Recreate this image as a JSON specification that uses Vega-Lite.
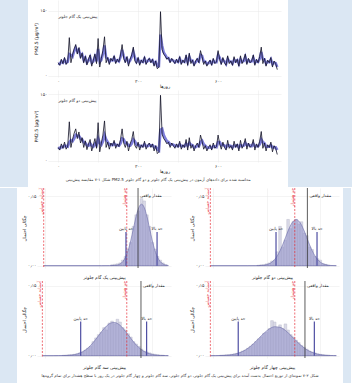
{
"$schema":"https://vega.github.io/schema/vega-lite/v6.json",
"background":"white","padding":0,"spacing":0,
"config":{"font":"DejaVu Sans","view":{"stroke":null},
"axis":{"domain":false,"ticks":false,"labelOverlap":false,"labelFontSize":4.5,"titleFontSize":4.5,"labelColor":"#3a3a3a","titleColor":"#1a1a1a","titleFontWeight":"normal","gridColor":"#e6e6e6","gridWidth":0.45,"labelPadding":1,"titlePadding":1.2},
"title":{"fontWeight":"normal","color":"#333333"}},
"datasets":{
"ts":[{"t":0,"a":30,"p1":28,"p2":30},{"t":6,"a":24,"p1":27,"p2":28},{"t":12,"a":38,"p1":33,"p2":31},{"t":18,"a":28,"p1":30,"p2":31},{"t":24,"a":42,"p1":37,"p2":34},{"t":30,"a":26,"p1":30,"p2":33},{"t":36,"a":33,"p1":32,"p2":32},{"t":42,"a":88,"p1":50,"p2":42},{"t":48,"a":30,"p1":48,"p2":46},{"t":54,"a":48,"p1":44,"p2":44},
{"t":60,"a":62,"p1":56,"p2":50},{"t":66,"a":72,"p1":65,"p2":58},{"t":72,"a":50,"p1":56,"p2":56},{"t":78,"a":65,"p1":60,"p2":56},{"t":84,"a":40,"p1":46,"p2":50},{"t":90,"a":52,"p1":50,"p2":48},{"t":96,"a":30,"p1":36,"p2":42},{"t":102,"a":45,"p1":42,"p2":40},{"t":108,"a":25,"p1":30,"p2":35},{"t":114,"a":38,"p1":35,"p2":34},
{"t":120,"a":48,"p1":43,"p2":39},{"t":126,"a":22,"p1":30,"p2":34},{"t":132,"a":35,"p1":33,"p2":32},{"t":138,"a":50,"p1":44,"p2":38},{"t":144,"a":28,"p1":33,"p2":35},{"t":150,"a":86,"p1":62,"p2":50},{"t":156,"a":20,"p1":32,"p2":40},{"t":162,"a":40,"p1":36,"p2":36},{"t":168,"a":58,"p1":50,"p2":44},{"t":174,"a":90,"p1":70,"p2":58},
{"t":180,"a":30,"p1":42,"p2":48},{"t":186,"a":42,"p1":40,"p2":42},{"t":192,"a":26,"p1":32,"p2":36},{"t":198,"a":40,"p1":37,"p2":36},{"t":204,"a":34,"p1":35,"p2":35},{"t":210,"a":46,"p1":42,"p2":39},{"t":216,"a":28,"p1":33,"p2":35},{"t":222,"a":38,"p1":36,"p2":35},{"t":228,"a":32,"p1":33,"p2":34},{"t":234,"a":48,"p1":43,"p2":39},
{"t":240,"a":72,"p1":60,"p2":50},{"t":246,"a":40,"p1":46,"p2":48},{"t":252,"a":30,"p1":35,"p2":40},{"t":258,"a":44,"p1":40,"p2":39},{"t":264,"a":22,"p1":30,"p2":34},{"t":270,"a":38,"p1":35,"p2":34},{"t":276,"a":48,"p1":43,"p2":39},{"t":282,"a":66,"p1":56,"p2":48},{"t":288,"a":34,"p1":42,"p2":44},{"t":294,"a":28,"p1":32,"p2":36},
{"t":300,"a":42,"p1":38,"p2":36},{"t":306,"a":24,"p1":30,"p2":33},{"t":312,"a":36,"p1":34,"p2":33},{"t":318,"a":30,"p1":32,"p2":33},{"t":324,"a":44,"p1":40,"p2":37},{"t":330,"a":26,"p1":31,"p2":33},{"t":336,"a":35,"p1":34,"p2":33},{"t":342,"a":40,"p1":38,"p2":36},{"t":348,"a":30,"p1":33,"p2":34},{"t":354,"a":38,"p1":36,"p2":35},
{"t":360,"a":22,"p1":28,"p2":31},{"t":366,"a":34,"p1":32,"p2":31},{"t":372,"a":16,"p1":22,"p2":26},{"t":378,"a":20,"p1":22,"p2":23},{"t":384,"a":148,"p1":95,"p2":70},{"t":390,"a":60,"p1":70,"p2":72},{"t":396,"a":50,"p1":54,"p2":58},{"t":402,"a":45,"p1":48,"p2":50},{"t":408,"a":38,"p1":41,"p2":44},{"t":414,"a":42,"p1":41,"p2":42},
{"t":420,"a":30,"p1":34,"p2":37},{"t":426,"a":40,"p1":37,"p2":37},{"t":432,"a":34,"p1":35,"p2":36},{"t":438,"a":28,"p1":31,"p2":33},{"t":444,"a":38,"p1":35,"p2":34},{"t":450,"a":30,"p1":32,"p2":33},{"t":456,"a":44,"p1":40,"p2":37},{"t":462,"a":26,"p1":31,"p2":33},{"t":468,"a":36,"p1":34,"p2":33},{"t":474,"a":30,"p1":32,"p2":33},
{"t":480,"a":48,"p1":42,"p2":38},{"t":486,"a":24,"p1":31,"p2":34},{"t":492,"a":52,"p1":44,"p2":40},{"t":498,"a":28,"p1":34,"p2":36},{"t":504,"a":36,"p1":35,"p2":35},{"t":510,"a":22,"p1":27,"p2":30},{"t":516,"a":34,"p1":31,"p2":31},{"t":522,"a":40,"p1":37,"p2":34},{"t":528,"a":30,"p1":33,"p2":33},{"t":534,"a":58,"p1":48,"p2":42},
{"t":540,"a":44,"p1":46,"p2":45},{"t":546,"a":26,"p1":33,"p2":37},{"t":552,"a":34,"p1":33,"p2":34},{"t":558,"a":22,"p1":27,"p2":30},{"t":564,"a":30,"p1":29,"p2":29},{"t":570,"a":36,"p1":33,"p2":31},{"t":576,"a":24,"p1":28,"p2":29},{"t":582,"a":40,"p1":35,"p2":33},{"t":588,"a":28,"p1":31,"p2":32},{"t":594,"a":32,"p1":31,"p2":31},
{"t":600,"a":58,"p1":48,"p2":42},{"t":606,"a":38,"p1":42,"p2":42},{"t":612,"a":26,"p1":31,"p2":35},{"t":618,"a":42,"p1":37,"p2":36},{"t":624,"a":30,"p1":33,"p2":34},{"t":630,"a":24,"p1":27,"p2":30},{"t":636,"a":46,"p1":39,"p2":35},{"t":642,"a":28,"p1":33,"p2":34},{"t":648,"a":34,"p1":33,"p2":33},{"t":654,"a":24,"p1":28,"p2":30},
{"t":660,"a":44,"p1":37,"p2":34},{"t":666,"a":30,"p1":33,"p2":33},{"t":672,"a":38,"p1":36,"p2":35},{"t":678,"a":22,"p1":27,"p2":30},{"t":684,"a":46,"p1":38,"p2":35},{"t":690,"a":28,"p1":32,"p2":33},{"t":696,"a":36,"p1":34,"p2":34},{"t":702,"a":50,"p1":44,"p2":40},{"t":708,"a":26,"p1":32,"p2":35},{"t":714,"a":40,"p1":36,"p2":36},
{"t":720,"a":30,"p1":32,"p2":34},{"t":726,"a":34,"p1":33,"p2":33},{"t":732,"a":48,"p1":42,"p2":38},{"t":738,"a":24,"p1":30,"p2":33},{"t":744,"a":38,"p1":34,"p2":33},{"t":750,"a":30,"p1":32,"p2":33},{"t":756,"a":44,"p1":39,"p2":37},{"t":762,"a":66,"p1":55,"p2":48},{"t":768,"a":28,"p1":38,"p2":42},{"t":774,"a":40,"p1":38,"p2":39},
{"t":780,"a":22,"p1":28,"p2":32},{"t":786,"a":36,"p1":32,"p2":32},{"t":792,"a":30,"p1":31,"p2":32},{"t":798,"a":42,"p1":38,"p2":35},{"t":804,"a":20,"p1":27,"p2":30},{"t":810,"a":34,"p1":30,"p2":30},{"t":816,"a":28,"p1":29,"p2":30},{"t":822,"a":14,"p1":20,"p2":24}],
"tsl":[{"c":"A","label":"پیش\u200cبینی یک گام جلوتر"},{"c":"B","label":"پیش\u200cبینی دو گام جلوتر"}],
"hist":[
{"p":1,"x0":29.5,"x1":30.5,"d":0.002},{"p":1,"x0":30.5,"x1":31.5,"d":0.003},{"p":1,"x0":31.5,"x1":32.5,"d":0.004},{"p":1,"x0":32.5,"x1":33.5,"d":0.006},{"p":1,"x0":33.5,"x1":34.5,"d":0.012},{"p":1,"x0":34.5,"x1":35.5,"d":0.02},{"p":1,"x0":35.5,"x1":36.5,"d":0.036},{"p":1,"x0":36.5,"x1":37.5,"d":0.05},{"p":1,"x0":37.5,"x1":38.5,"d":0.085},{"p":1,"x0":38.5,"x1":39.5,"d":0.11},{"p":1,"x0":39.5,"x1":40.5,"d":0.118},{"p":1,"x0":40.5,"x1":41.5,"d":0.145},{"p":1,"x0":41.5,"x1":42.5,"d":0.14},{"p":1,"x0":42.5,"x1":43.5,"d":0.11},{"p":1,"x0":43.5,"x1":44.5,"d":0.085},{"p":1,"x0":44.5,"x1":45.5,"d":0.05},{"p":1,"x0":45.5,"x1":46.5,"d":0.036},{"p":1,"x0":46.5,"x1":47.5,"d":0.02},{"p":1,"x0":47.5,"x1":48.5,"d":0.012},{"p":1,"x0":48.5,"x1":49.5,"d":0.006},{"p":1,"x0":49.5,"x1":50.5,"d":0.002},
{"p":2,"x0":21.5,"x1":22.5,"d":0.001},{"p":2,"x0":22.5,"x1":23.5,"d":0.002},{"p":2,"x0":23.5,"x1":24.5,"d":0.002},{"p":2,"x0":24.5,"x1":25.5,"d":0.004},{"p":2,"x0":25.5,"x1":26.5,"d":0.006},{"p":2,"x0":26.5,"x1":27.5,"d":0.01},{"p":2,"x0":27.5,"x1":28.5,"d":0.012},{"p":2,"x0":28.5,"x1":29.5,"d":0.03},{"p":2,"x0":29.5,"x1":30.5,"d":0.085},{"p":2,"x0":30.5,"x1":31.5,"d":0.04},{"p":2,"x0":31.5,"x1":32.5,"d":0.055},{"p":2,"x0":32.5,"x1":33.5,"d":0.1},{"p":2,"x0":33.5,"x1":34.5,"d":0.08},{"p":2,"x0":34.5,"x1":35.5,"d":0.095},{"p":2,"x0":35.5,"x1":36.5,"d":0.1},{"p":2,"x0":36.5,"x1":37.5,"d":0.09},{"p":2,"x0":37.5,"x1":38.5,"d":0.095},{"p":2,"x0":38.5,"x1":39.5,"d":0.07},{"p":2,"x0":39.5,"x1":40.5,"d":0.065},{"p":2,"x0":40.5,"x1":41.5,"d":0.04},{"p":2,"x0":41.5,"x1":42.5,"d":0.035},{"p":2,"x0":42.5,"x1":43.5,"d":0.02},{"p":2,"x0":43.5,"x1":44.5,"d":0.015},{"p":2,"x0":44.5,"x1":45.5,"d":0.012},{"p":2,"x0":45.5,"x1":46.5,"d":0.004},{"p":2,"x0":46.5,"x1":47.5,"d":0.003},{"p":2,"x0":47.5,"x1":48.5,"d":0.001},
{"p":3,"x0":11.5,"x1":12.5,"d":0.001},{"p":3,"x0":12.5,"x1":13.5,"d":0.001},{"p":3,"x0":13.5,"x1":14.5,"d":0.002},{"p":3,"x0":14.5,"x1":15.5,"d":0.002},{"p":3,"x0":15.5,"x1":16.5,"d":0.003},{"p":3,"x0":16.5,"x1":17.5,"d":0.004},{"p":3,"x0":17.5,"x1":18.5,"d":0.006},{"p":3,"x0":18.5,"x1":19.5,"d":0.008},{"p":3,"x0":19.5,"x1":20.5,"d":0.012},{"p":3,"x0":20.5,"x1":21.5,"d":0.016},{"p":3,"x0":21.5,"x1":22.5,"d":0.02},{"p":3,"x0":22.5,"x1":23.5,"d":0.03},{"p":3,"x0":23.5,"x1":24.5,"d":0.038},{"p":3,"x0":24.5,"x1":25.5,"d":0.045},{"p":3,"x0":25.5,"x1":26.5,"d":0.05},{"p":3,"x0":26.5,"x1":27.5,"d":0.06},{"p":3,"x0":27.5,"x1":28.5,"d":0.055},{"p":3,"x0":28.5,"x1":29.5,"d":0.07},{"p":3,"x0":29.5,"x1":30.5,"d":0.074},{"p":3,"x0":30.5,"x1":31.5,"d":0.068},{"p":3,"x0":31.5,"x1":32.5,"d":0.078},{"p":3,"x0":32.5,"x1":33.5,"d":0.072},{"p":3,"x0":33.5,"x1":34.5,"d":0.06},{"p":3,"x0":34.5,"x1":35.5,"d":0.055},{"p":3,"x0":35.5,"x1":36.5,"d":0.047},{"p":3,"x0":36.5,"x1":37.5,"d":0.04},{"p":3,"x0":37.5,"x1":38.5,"d":0.03},{"p":3,"x0":38.5,"x1":39.5,"d":0.025},{"p":3,"x0":39.5,"x1":40.5,"d":0.02},{"p":3,"x0":40.5,"x1":41.5,"d":0.014},{"p":3,"x0":41.5,"x1":42.5,"d":0.01},{"p":3,"x0":42.5,"x1":43.5,"d":0.008},{"p":3,"x0":43.5,"x1":44.5,"d":0.006},{"p":3,"x0":44.5,"x1":45.5,"d":0.004},{"p":3,"x0":45.5,"x1":46.5,"d":0.003},{"p":3,"x0":46.5,"x1":47.5,"d":0.002},{"p":3,"x0":47.5,"x1":48.5,"d":0.001},{"p":3,"x0":48.5,"x1":49.5,"d":0.001},
{"p":4,"x0":7.5,"x1":8.5,"d":0.001},{"p":4,"x0":8.5,"x1":9.5,"d":0.001},{"p":4,"x0":9.5,"x1":10.5,"d":0.002},{"p":4,"x0":10.5,"x1":11.5,"d":0.002},{"p":4,"x0":11.5,"x1":12.5,"d":0.003},{"p":4,"x0":12.5,"x1":13.5,"d":0.004},{"p":4,"x0":13.5,"x1":14.5,"d":0.005},{"p":4,"x0":14.5,"x1":15.5,"d":0.007},{"p":4,"x0":15.5,"x1":16.5,"d":0.01},{"p":4,"x0":16.5,"x1":17.5,"d":0.012},{"p":4,"x0":17.5,"x1":18.5,"d":0.016},{"p":4,"x0":18.5,"x1":19.5,"d":0.02},{"p":4,"x0":19.5,"x1":20.5,"d":0.025},{"p":4,"x0":20.5,"x1":21.5,"d":0.03},{"p":4,"x0":21.5,"x1":22.5,"d":0.036},{"p":4,"x0":22.5,"x1":23.5,"d":0.04},{"p":4,"x0":23.5,"x1":24.5,"d":0.048},{"p":4,"x0":24.5,"x1":25.5,"d":0.05},{"p":4,"x0":25.5,"x1":26.5,"d":0.058},{"p":4,"x0":26.5,"x1":27.5,"d":0.075},{"p":4,"x0":27.5,"x1":28.5,"d":0.072},{"p":4,"x0":28.5,"x1":29.5,"d":0.06},{"p":4,"x0":29.5,"x1":30.5,"d":0.066},{"p":4,"x0":30.5,"x1":31.5,"d":0.058},{"p":4,"x0":31.5,"x1":32.5,"d":0.068},{"p":4,"x0":32.5,"x1":33.5,"d":0.055},{"p":4,"x0":33.5,"x1":34.5,"d":0.045},{"p":4,"x0":34.5,"x1":35.5,"d":0.04},{"p":4,"x0":35.5,"x1":36.5,"d":0.033},{"p":4,"x0":36.5,"x1":37.5,"d":0.028},{"p":4,"x0":37.5,"x1":38.5,"d":0.022},{"p":4,"x0":38.5,"x1":39.5,"d":0.018},{"p":4,"x0":39.5,"x1":40.5,"d":0.014},{"p":4,"x0":40.5,"x1":41.5,"d":0.01},{"p":4,"x0":41.5,"x1":42.5,"d":0.008},{"p":4,"x0":42.5,"x1":43.5,"d":0.006},{"p":4,"x0":43.5,"x1":44.5,"d":0.004},{"p":4,"x0":44.5,"x1":45.5,"d":0.003},{"p":4,"x0":45.5,"x1":46.5,"d":0.002},{"p":4,"x0":46.5,"x1":47.5,"d":0.001},{"p":4,"x0":47.5,"x1":48.5,"d":0.001}],
"dens":[
{"p":1,"x":4.5,"d":0},{"p":1,"x":26,"d":0},{"p":1,"x":29,"d":0.0001},{"p":1,"x":30,"d":0.0003},{"p":1,"x":31,"d":0.0006},{"p":1,"x":32,"d":0.0015},{"p":1,"x":33,"d":0.0038},{"p":1,"x":34,"d":0.0087},{"p":1,"x":35,"d":0.018},{"p":1,"x":36,"d":0.033},{"p":1,"x":37,"d":0.055},{"p":1,"x":38,"d":0.081},{"p":1,"x":39,"d":0.107},{"p":1,"x":40,"d":0.126},{"p":1,"x":41,"d":0.133},{"p":1,"x":42,"d":0.126},{"p":1,"x":43,"d":0.107},{"p":1,"x":44,"d":0.081},{"p":1,"x":45,"d":0.055},{"p":1,"x":46,"d":0.033},{"p":1,"x":47,"d":0.018},{"p":1,"x":48,"d":0.0087},{"p":1,"x":49,"d":0.0038},{"p":1,"x":50,"d":0.0015},{"p":1,"x":51,"d":0.0005},
{"p":2,"x":4,"d":0},{"p":2,"x":18,"d":0},{"p":2,"x":21,"d":0.0001},{"p":2,"x":22,"d":0.0002},{"p":2,"x":23,"d":0.0005},{"p":2,"x":24,"d":0.0011},{"p":2,"x":25,"d":0.0023},{"p":2,"x":26,"d":0.0044},{"p":2,"x":27,"d":0.0079},{"p":2,"x":28,"d":0.0135},{"p":2,"x":29,"d":0.0216},{"p":2,"x":30,"d":0.0324},{"p":2,"x":31,"d":0.0456},{"p":2,"x":32,"d":0.0605},{"p":2,"x":33,"d":0.0753},{"p":2,"x":34,"d":0.088},{"p":2,"x":35,"d":0.0966},{"p":2,"x":36,"d":0.0997},{"p":2,"x":37,"d":0.0966},{"p":2,"x":38,"d":0.088},{"p":2,"x":39,"d":0.0753},{"p":2,"x":40,"d":0.0605},{"p":2,"x":41,"d":0.0456},{"p":2,"x":42,"d":0.0324},{"p":2,"x":43,"d":0.0216},{"p":2,"x":44,"d":0.0135},{"p":2,"x":45,"d":0.0079},{"p":2,"x":46,"d":0.0044},{"p":2,"x":47,"d":0.0023},{"p":2,"x":48,"d":0.0011},{"p":2,"x":49,"d":0.0005},{"p":2,"x":51,"d":0.0001},
{"p":3,"x":4,"d":0},{"p":3,"x":8,"d":0},{"p":3,"x":10,"d":0.0001},{"p":3,"x":12,"d":0.0003},{"p":3,"x":14,"d":0.0009},{"p":3,"x":16,"d":0.0024},{"p":3,"x":18,"d":0.0057},{"p":3,"x":19,"d":0.0083},{"p":3,"x":20,"d":0.0119},{"p":3,"x":21,"d":0.0164},{"p":3,"x":22,"d":0.0219},{"p":3,"x":23,"d":0.0284},{"p":3,"x":24,"d":0.0355},{"p":3,"x":25,"d":0.0432},{"p":3,"x":26,"d":0.0508},{"p":3,"x":27,"d":0.0579},{"p":3,"x":28,"d":0.0639},{"p":3,"x":29,"d":0.0684},{"p":3,"x":30,"d":0.0708},{"p":3,"x":31,"d":0.071},{"p":3,"x":32,"d":0.069},{"p":3,"x":33,"d":0.065},{"p":3,"x":34,"d":0.0592},{"p":3,"x":35,"d":0.0523},{"p":3,"x":36,"d":0.0447},{"p":3,"x":37,"d":0.0371},{"p":3,"x":38,"d":0.0297},{"p":3,"x":39,"d":0.0231},{"p":3,"x":40,"d":0.0174},{"p":3,"x":41,"d":0.0127},{"p":3,"x":42,"d":0.009},{"p":3,"x":43,"d":0.0061},{"p":3,"x":44,"d":0.0041},{"p":3,"x":45,"d":0.0026},{"p":3,"x":46,"d":0.0016},{"p":3,"x":47,"d":0.001},{"p":3,"x":48,"d":0.0006},{"p":3,"x":50,"d":0.0002},{"p":3,"x":51,"d":0.0001},
{"p":4,"x":4,"d":0},{"p":4,"x":6,"d":0.0001},{"p":4,"x":8,"d":0.0004},{"p":4,"x":10,"d":0.0009},{"p":4,"x":12,"d":0.0022},{"p":4,"x":14,"d":0.0046},{"p":4,"x":16,"d":0.009},{"p":4,"x":18,"d":0.0158},{"p":4,"x":20,"d":0.0252},{"p":4,"x":22,"d":0.0366},{"p":4,"x":24,"d":0.0481},{"p":4,"x":26,"d":0.0574},{"p":4,"x":28,"d":0.062},{"p":4,"x":30,"d":0.0608},{"p":4,"x":32,"d":0.0541},{"p":4,"x":34,"d":0.0436},{"p":4,"x":36,"d":0.0319},{"p":4,"x":38,"d":0.0212},{"p":4,"x":40,"d":0.0127},{"p":4,"x":42,"d":0.007},{"p":4,"x":44,"d":0.0034},{"p":4,"x":46,"d":0.0015},{"p":4,"x":48,"d":0.0006},{"p":4,"x":50,"d":0.0002},{"p":4,"x":51,"d":0.0001}],
"mk":[
{"p":1,"k":"red","x":4.5,"label":"آستانه حساس"},{"p":1,"k":"red","x":35.5,"label":"حد هشدار"},{"p":1,"k":"act","x":39.7,"label":"مقدار واقعی"},{"p":1,"k":"lo","x":35.2,"label":"حد پایین"},{"p":1,"k":"hi","x":46.8,"label":"حد بالا"},
{"p":2,"k":"red","x":4,"label":"آستانه حساس"},{"p":2,"k":"red","x":35.5,"label":"حد هشدار"},{"p":2,"k":"act","x":40.2,"label":"مقدار واقعی"},{"p":2,"k":"lo","x":28.5,"label":"حد پایین"},{"p":2,"k":"hi","x":43.8,"label":"حد بالا"},
{"p":3,"k":"red","x":4,"label":"آستانه حساس"},{"p":3,"k":"red","x":35.5,"label":"حد هشدار"},{"p":3,"k":"act","x":40.8,"label":"مقدار واقعی"},{"p":3,"k":"lo","x":18.3,"label":"حد پایین"},{"p":3,"k":"hi","x":42.9,"label":"حد بالا"},
{"p":4,"k":"red","x":4,"label":"آستانه حساس"},{"p":4,"k":"red","x":35.5,"label":"حد هشدار"},{"p":4,"k":"act","x":39.3,"label":"مقدار واقعی"},{"p":4,"k":"lo","x":14.4,"label":"حد پایین"},{"p":4,"k":"hi","x":42.8,"label":"حد بالا"}]
},
"vconcat":[
{"spacing":5,"hconcat":[
 {"width":28,"height":187,"data":{"values":[]},"mark":"point","view":{"fill":"#dbe7f3","stroke":null}},
 {"spacing":1,"title":{"text":"شکل ۱-۷ مقایسه پیش\u200cبینی PM2.5 محاسبه شده برای داده\u200cهای آزمون در پیش\u200cبینی یک گام جلوتر و دو گام جلوتر","orient":"bottom","fontSize":4,"offset":5,"anchor":"middle"},
  "vconcat":[
  {"width":233,"height":77,"layer":[
   {"data":{"name":"ts"},"mark":{"type":"line","color":"#5c5cd0","strokeWidth":2.6,"opacity":0.8},"encoding":{
     "x":{"field":"t","type":"quantitative","scale":{"domain":[-38,836],"nice":false,"zero":false},"axis":{"title":"روزها","values":[0,150,300,450,600,750],"labelExpr":"datum.value==0?'۰':datum.value==300?'۳۰۰':datum.value==600?'۶۰۰':''"}},
     "y":{"field":"p1","type":"quantitative","scale":{"domain":[-3,175],"nice":false,"zero":false},"axis":{"title":"PM2.5 (µg/m³)","values":[0,25,50,75,100,125,150],"labelExpr":"datum.value==0?'۰':datum.value==50?'۵۰':datum.value==100?'۱۰۰':datum.value==150?'۱۵۰':''"}}}},
   {"data":{"name":"ts"},"mark":{"type":"line","color":"#121226","strokeWidth":0.8},"encoding":{"x":{"field":"t","type":"quantitative"},"y":{"field":"a","type":"quantitative"}}},
   {"data":{"name":"tsl"},"transform":[{"filter":"datum.c=='A'"}],"mark":{"type":"text","align":"left","baseline":"middle","fontSize":4.2,"color":"#222222"},"encoding":{"x":{"datum":0},"y":{"datum":136},"text":{"field":"label"}}}
  ]},
  {"width":233,"height":72,"layer":[
   {"data":{"name":"ts"},"mark":{"type":"line","color":"#5c5cd0","strokeWidth":2.8,"opacity":0.8},"encoding":{
     "x":{"field":"t","type":"quantitative","scale":{"domain":[-38,836],"nice":false,"zero":false},"axis":{"title":"روزها","values":[0,150,300,450,600,750],"labelExpr":"datum.value==0?'۰':datum.value==300?'۳۰۰':datum.value==600?'۶۰۰':''"}},
     "y":{"field":"p2","type":"quantitative","scale":{"domain":[-3,160],"nice":false,"zero":false},"axis":{"title":"PM2.5 (µg/m³)","values":[0,25,50,75,100,125,150],"labelExpr":"datum.value==0?'۰':datum.value==50?'۵۰':datum.value==100?'۱۰۰':datum.value==150?'۱۵۰':''"}}}},
   {"data":{"name":"ts"},"mark":{"type":"line","color":"#121226","strokeWidth":0.8},"encoding":{"x":{"field":"t","type":"quantitative"},"y":{"field":"a","type":"quantitative"}}},
   {"data":{"name":"tsl"},"transform":[{"filter":"datum.c=='B'"}],"mark":{"type":"text","align":"left","baseline":"middle","fontSize":4.2,"color":"#222222"},"encoding":{"x":{"datum":0},"y":{"datum":136},"text":{"field":"label"}}}
  ]}
 ]},
 {"width":66,"height":187,"data":{"values":[]},"mark":"point","view":{"fill":"#dbe7f3","stroke":null}}
]},
{"spacing":4,"hconcat":[
 {"width":17,"height":196,"data":{"values":[]},"mark":"point","view":{"fill":"#dbe7f3","stroke":null}},
 {"spacing":0,"title":{"text":"شکل ۲-۷ نمونه\u200cای از توزیع احتمال بدست آمده برای پیش\u200cبینی یک گام جلوتر، دو گام جلوتر، سه گام جلوتر و چهار گام جلوتر در یک روز با سطح هشدار برای تمام گروه\u200cها","orient":"bottom","fontSize":4,"offset":5,"anchor":"middle"},
  "vconcat":[
  {"spacing":18,"hconcat":[
   {"width":134,"height":80,"layer":[
    {"data":{"name":"hist"},"transform":[{"filter":"datum.p==1"}],"mark":{"type":"rect","fill":"#dadae8","stroke":"#b3b3c6","strokeWidth":0.4},"encoding":{"x":{"field":"x0","type":"quantitative","scale":{"domain":[2,52],"nice":false,"zero":false},"axis":{"title":"پیش\u200cبینی یک گام جلوتر","values":[5,10,15,20,25,30,35,40,45,50],"labelExpr":"datum.value==10?'۱۰':datum.value==20?'۲۰':datum.value==30?'۳۰':datum.value==40?'۴۰':datum.value==50?'۵۰':''"}},"x2":{"field":"x1"},"y":{"field":"d","type":"quantitative","scale":{"domain":[-0.005,0.168],"nice":false,"zero":false},"axis":{"title":"چگالی احتمال","values":[0,0.025,0.05,0.075,0.1,0.125,0.15],"labelExpr":"round(datum.value*1000)==0?'۰٫۰۰':round(datum.value*1000)==50?'۰٫۰۵':round(datum.value*1000)==100?'۰٫۱۰':round(datum.value*1000)==150?'۰٫۱۵':''"}},"y2":{"datum":0}}},
    {"data":{"name":"dens"},"transform":[{"filter":"datum.p==1"}],"mark":{"type":"area","interpolate":"monotone","fill":"#8a8ac6","fillOpacity":0.5,"stroke":"#5a5a9e","strokeWidth":0.5},"encoding":{"x":{"field":"x","type":"quantitative"},"y":{"field":"d","type":"quantitative"},"y2":{"datum":0}}},
    {"data":{"name":"mk"},"transform":[{"filter":"datum.p==1 && datum.k=='red'"}],"mark":{"type":"rule","color":"#e8303a","strokeWidth":0.7,"strokeDash":[2,1.5]},"encoding":{"x":{"field":"x","type":"quantitative"}}},
    {"data":{"name":"mk"},"transform":[{"filter":"datum.p==1 && datum.k=='red'"}],"mark":{"type":"text","angle":270,"align":"right","baseline":"bottom","fontSize":4.5,"color":"#e8303a"},"encoding":{"x":{"field":"x","type":"quantitative"},"y":{"datum":0.168},"text":{"field":"label"}}},
    {"data":{"name":"mk"},"transform":[{"filter":"datum.p==1 && datum.k=='act'"}],"mark":{"type":"rule","color":"#333333","strokeWidth":0.8},"encoding":{"x":{"field":"x","type":"quantitative"}}},
    {"data":{"name":"mk"},"transform":[{"filter":"datum.p==1 && datum.k=='act'"}],"mark":{"type":"text","align":"left","dx":2,"baseline":"middle","fontSize":4.2,"color":"#222222"},"encoding":{"x":{"field":"x","type":"quantitative"},"y":{"datum":0.15},"text":{"field":"label"}}},
    {"data":{"name":"mk"},"transform":[{"filter":"datum.p==1 && (datum.k=='lo' || datum.k=='hi')"}],"mark":{"type":"rule","color":"#4e4ea2","strokeWidth":1.2},"encoding":{"x":{"field":"x","type":"quantitative"},"y":{"datum":0},"y2":{"datum":0.073}}},
    {"data":{"name":"mk"},"transform":[{"filter":"datum.p==1 && (datum.k=='lo' || datum.k=='hi')"}],"mark":{"type":"text","align":"center","baseline":"bottom","dy":-1,"fontSize":4.2,"color":"#222222"},"encoding":{"x":{"field":"x","type":"quantitative"},"y":{"datum":0.073},"text":{"field":"label"}}}
   ]},
   {"width":134,"height":80,"layer":[
    {"data":{"name":"hist"},"transform":[{"filter":"datum.p==2"}],"mark":{"type":"rect","fill":"#dadae8","stroke":"#b3b3c6","strokeWidth":0.4},"encoding":{"x":{"field":"x0","type":"quantitative","scale":{"domain":[2,52],"nice":false,"zero":false},"axis":{"title":"پیش\u200cبینی دو گام جلوتر","values":[5,10,15,20,25,30,35,40,45,50],"labelExpr":"datum.value==10?'۱۰':datum.value==20?'۲۰':datum.value==30?'۳۰':datum.value==40?'۴۰':datum.value==50?'۵۰':''"}},"x2":{"field":"x1"},"y":{"field":"d","type":"quantitative","scale":{"domain":[-0.005,0.168],"nice":false,"zero":false},"axis":{"title":"چگالی احتمال","values":[0,0.025,0.05,0.075,0.1,0.125,0.15],"labelExpr":"round(datum.value*1000)==0?'۰٫۰۰':round(datum.value*1000)==50?'۰٫۰۵':round(datum.value*1000)==100?'۰٫۱۰':round(datum.value*1000)==150?'۰٫۱۵':''"}},"y2":{"datum":0}}},
    {"data":{"name":"dens"},"transform":[{"filter":"datum.p==2"}],"mark":{"type":"area","interpolate":"monotone","fill":"#8a8ac6","fillOpacity":0.5,"stroke":"#5a5a9e","strokeWidth":0.5},"encoding":{"x":{"field":"x","type":"quantitative"},"y":{"field":"d","type":"quantitative"},"y2":{"datum":0}}},
    {"data":{"name":"mk"},"transform":[{"filter":"datum.p==2 && datum.k=='red'"}],"mark":{"type":"rule","color":"#e8303a","strokeWidth":0.7,"strokeDash":[2,1.5]},"encoding":{"x":{"field":"x","type":"quantitative"}}},
    {"data":{"name":"mk"},"transform":[{"filter":"datum.p==2 && datum.k=='red'"}],"mark":{"type":"text","angle":270,"align":"right","baseline":"bottom","fontSize":4.5,"color":"#e8303a"},"encoding":{"x":{"field":"x","type":"quantitative"},"y":{"datum":0.168},"text":{"field":"label"}}},
    {"data":{"name":"mk"},"transform":[{"filter":"datum.p==2 && datum.k=='act'"}],"mark":{"type":"rule","color":"#333333","strokeWidth":0.8},"encoding":{"x":{"field":"x","type":"quantitative"}}},
    {"data":{"name":"mk"},"transform":[{"filter":"datum.p==2 && datum.k=='act'"}],"mark":{"type":"text","align":"left","dx":2,"baseline":"middle","fontSize":4.2,"color":"#222222"},"encoding":{"x":{"field":"x","type":"quantitative"},"y":{"datum":0.15},"text":{"field":"label"}}},
    {"data":{"name":"mk"},"transform":[{"filter":"datum.p==2 && (datum.k=='lo' || datum.k=='hi')"}],"mark":{"type":"rule","color":"#4e4ea2","strokeWidth":1.2},"encoding":{"x":{"field":"x","type":"quantitative"},"y":{"datum":0},"y2":{"datum":0.073}}},
    {"data":{"name":"mk"},"transform":[{"filter":"datum.p==2 && (datum.k=='lo' || datum.k=='hi')"}],"mark":{"type":"text","align":"center","baseline":"bottom","dy":-1,"fontSize":4.2,"color":"#222222"},"encoding":{"x":{"field":"x","type":"quantitative"},"y":{"datum":0.073},"text":{"field":"label"}}}
   ]}
  ]},
  {"spacing":18,"hconcat":[
   {"width":134,"height":77,"layer":[
    {"data":{"name":"hist"},"transform":[{"filter":"datum.p==3"}],"mark":{"type":"rect","fill":"#dadae8","stroke":"#b3b3c6","strokeWidth":0.4},"encoding":{"x":{"field":"x0","type":"quantitative","scale":{"domain":[2,52],"nice":false,"zero":false},"axis":{"title":"پیش\u200cبینی سه گام جلوتر","values":[5,10,15,20,25,30,35,40,45,50],"labelExpr":"datum.value==10?'۱۰':datum.value==20?'۲۰':datum.value==30?'۳۰':datum.value==40?'۴۰':datum.value==50?'۵۰':''"}},"x2":{"field":"x1"},"y":{"field":"d","type":"quantitative","scale":{"domain":[-0.005,0.16],"nice":false,"zero":false},"axis":{"title":"چگالی احتمال","values":[0,0.025,0.05,0.075,0.1,0.125,0.15],"labelExpr":"round(datum.value*1000)==0?'۰٫۰۰':round(datum.value*1000)==50?'۰٫۰۵':round(datum.value*1000)==100?'۰٫۱۰':round(datum.value*1000)==150?'۰٫۱۵':''"}},"y2":{"datum":0}}},
    {"data":{"name":"dens"},"transform":[{"filter":"datum.p==3"}],"mark":{"type":"area","interpolate":"monotone","fill":"#8a8ac6","fillOpacity":0.5,"stroke":"#5a5a9e","strokeWidth":0.5},"encoding":{"x":{"field":"x","type":"quantitative"},"y":{"field":"d","type":"quantitative"},"y2":{"datum":0}}},
    {"data":{"name":"mk"},"transform":[{"filter":"datum.p==3 && datum.k=='red'"}],"mark":{"type":"rule","color":"#e8303a","strokeWidth":0.7,"strokeDash":[2,1.5]},"encoding":{"x":{"field":"x","type":"quantitative"}}},
    {"data":{"name":"mk"},"transform":[{"filter":"datum.p==3 && datum.k=='red'"}],"mark":{"type":"text","angle":270,"align":"right","baseline":"bottom","fontSize":4.5,"color":"#e8303a"},"encoding":{"x":{"field":"x","type":"quantitative"},"y":{"datum":0.16},"text":{"field":"label"}}},
    {"data":{"name":"mk"},"transform":[{"filter":"datum.p==3 && datum.k=='act'"}],"mark":{"type":"rule","color":"#333333","strokeWidth":0.8},"encoding":{"x":{"field":"x","type":"quantitative"}}},
    {"data":{"name":"mk"},"transform":[{"filter":"datum.p==3 && datum.k=='act'"}],"mark":{"type":"text","align":"left","dx":2,"baseline":"middle","fontSize":4.2,"color":"#222222"},"encoding":{"x":{"field":"x","type":"quantitative"},"y":{"datum":0.15},"text":{"field":"label"}}},
    {"data":{"name":"mk"},"transform":[{"filter":"datum.p==3 && (datum.k=='lo' || datum.k=='hi')"}],"mark":{"type":"rule","color":"#4e4ea2","strokeWidth":1.2},"encoding":{"x":{"field":"x","type":"quantitative"},"y":{"datum":0},"y2":{"datum":0.073}}},
    {"data":{"name":"mk"},"transform":[{"filter":"datum.p==3 && (datum.k=='lo' || datum.k=='hi')"}],"mark":{"type":"text","align":"center","baseline":"bottom","dy":-1,"fontSize":4.2,"color":"#222222"},"encoding":{"x":{"field":"x","type":"quantitative"},"y":{"datum":0.073},"text":{"field":"label"}}}
   ]},
   {"width":134,"height":77,"layer":[
    {"data":{"name":"hist"},"transform":[{"filter":"datum.p==4"}],"mark":{"type":"rect","fill":"#dadae8","stroke":"#b3b3c6","strokeWidth":0.4},"encoding":{"x":{"field":"x0","type":"quantitative","scale":{"domain":[2,52],"nice":false,"zero":false},"axis":{"title":"پیش\u200cبینی چهار گام جلوتر","values":[5,10,15,20,25,30,35,40,45,50],"labelExpr":"datum.value==10?'۱۰':datum.value==20?'۲۰':datum.value==30?'۳۰':datum.value==40?'۴۰':datum.value==50?'۵۰':''"}},"x2":{"field":"x1"},"y":{"field":"d","type":"quantitative","scale":{"domain":[-0.005,0.16],"nice":false,"zero":false},"axis":{"title":"چگالی احتمال","values":[0,0.025,0.05,0.075,0.1,0.125,0.15],"labelExpr":"round(datum.value*1000)==0?'۰٫۰۰':round(datum.value*1000)==50?'۰٫۰۵':round(datum.value*1000)==100?'۰٫۱۰':round(datum.value*1000)==150?'۰٫۱۵':''"}},"y2":{"datum":0}}},
    {"data":{"name":"dens"},"transform":[{"filter":"datum.p==4"}],"mark":{"type":"area","interpolate":"monotone","fill":"#8a8ac6","fillOpacity":0.5,"stroke":"#5a5a9e","strokeWidth":0.5},"encoding":{"x":{"field":"x","type":"quantitative"},"y":{"field":"d","type":"quantitative"},"y2":{"datum":0}}},
    {"data":{"name":"mk"},"transform":[{"filter":"datum.p==4 && datum.k=='red'"}],"mark":{"type":"rule","color":"#e8303a","strokeWidth":0.7,"strokeDash":[2,1.5]},"encoding":{"x":{"field":"x","type":"quantitative"}}},
    {"data":{"name":"mk"},"transform":[{"filter":"datum.p==4 && datum.k=='red'"}],"mark":{"type":"text","angle":270,"align":"right","baseline":"bottom","fontSize":4.5,"color":"#e8303a"},"encoding":{"x":{"field":"x","type":"quantitative"},"y":{"datum":0.16},"text":{"field":"label"}}},
    {"data":{"name":"mk"},"transform":[{"filter":"datum.p==4 && datum.k=='act'"}],"mark":{"type":"rule","color":"#333333","strokeWidth":0.8},"encoding":{"x":{"field":"x","type":"quantitative"}}},
    {"data":{"name":"mk"},"transform":[{"filter":"datum.p==4 && datum.k=='act'"}],"mark":{"type":"text","align":"left","dx":2,"baseline":"middle","fontSize":4.2,"color":"#222222"},"encoding":{"x":{"field":"x","type":"quantitative"},"y":{"datum":0.15},"text":{"field":"label"}}},
    {"data":{"name":"mk"},"transform":[{"filter":"datum.p==4 && (datum.k=='lo' || datum.k=='hi')"}],"mark":{"type":"rule","color":"#4e4ea2","strokeWidth":1.2},"encoding":{"x":{"field":"x","type":"quantitative"},"y":{"datum":0},"y2":{"datum":0.073}}},
    {"data":{"name":"mk"},"transform":[{"filter":"datum.p==4 && (datum.k=='lo' || datum.k=='hi')"}],"mark":{"type":"text","align":"center","baseline":"bottom","dy":-1,"fontSize":4.2,"color":"#222222"},"encoding":{"x":{"field":"x","type":"quantitative"},"y":{"datum":0.073},"text":{"field":"label"}}}
   ]}
  ]}
 ]},
 {"width":8,"height":196,"data":{"values":[]},"mark":"point","view":{"fill":"#dbe7f3","stroke":null}}
]}
]
}
